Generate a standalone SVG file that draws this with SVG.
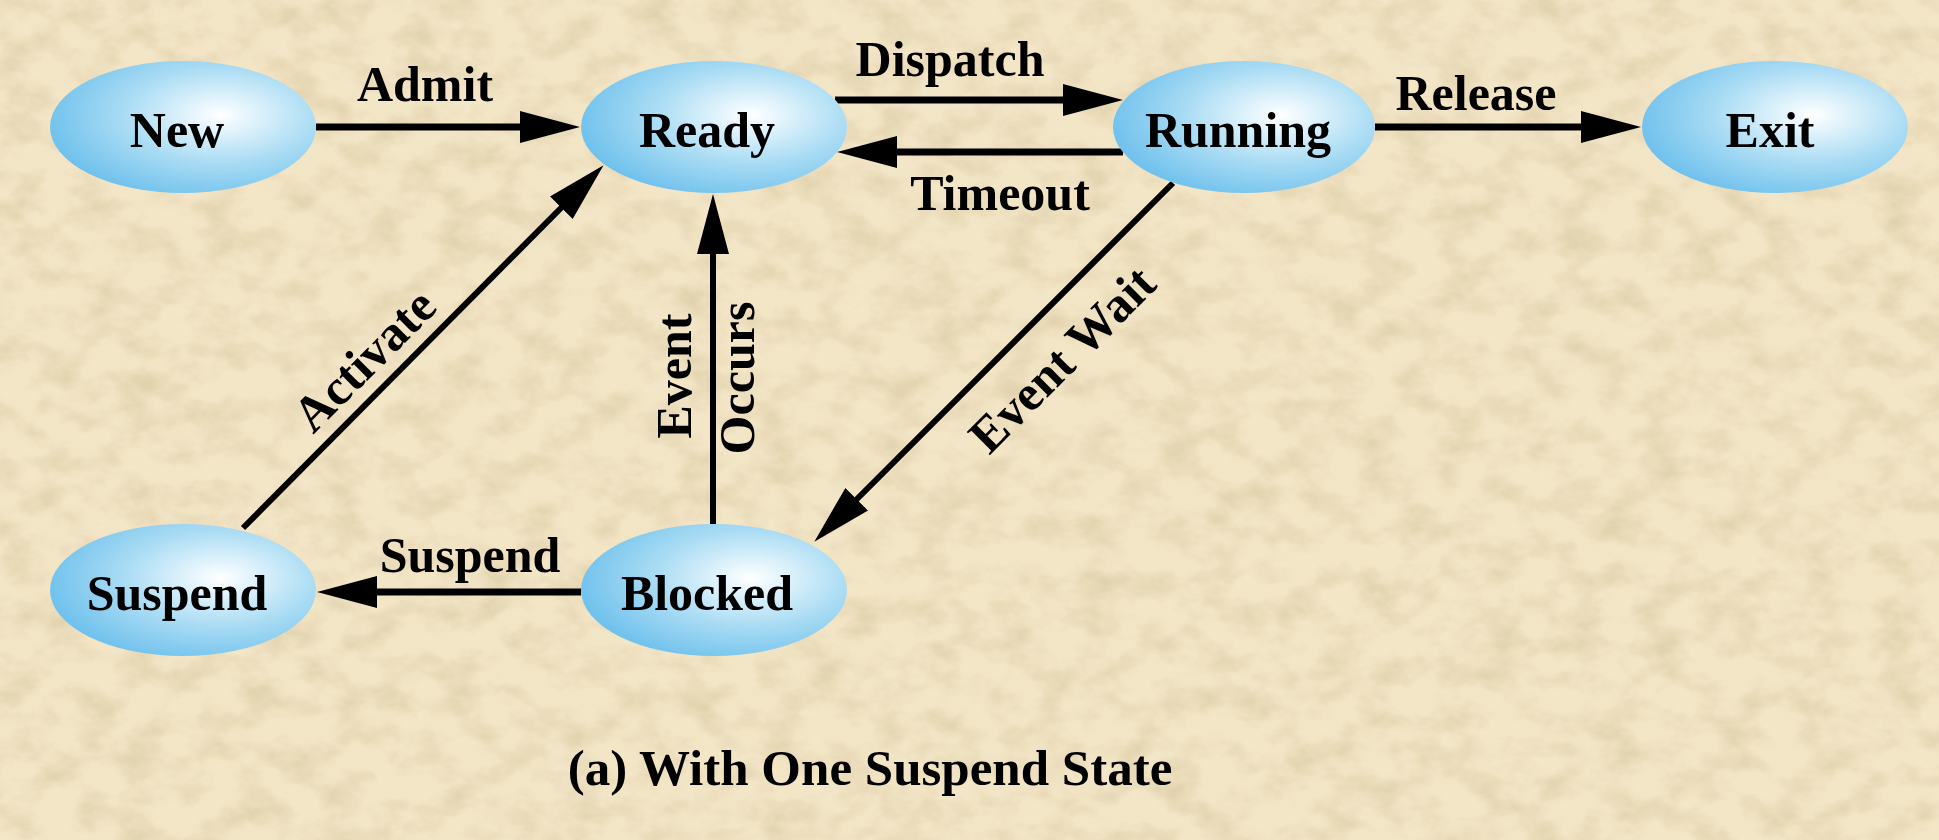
<svg xmlns="http://www.w3.org/2000/svg" width="1939" height="840" viewBox="0 0 1939 840">
<defs>
<style>
.lbl{font-family:"Liberation Serif","Times New Roman",serif;font-weight:bold;font-size:50px;fill:#000;text-anchor:middle}
.cap{font-size:51px}
.node{fill:url(#blue)}
.edge{stroke:#000;stroke-width:7;fill:none;marker-end:url(#ah)}
.thin{stroke-width:6}
</style>
<radialGradient id="blue" cx="0.64" cy="0.41" fx="0.64" fy="0.41" r="0.72">
<stop offset="0" stop-color="#FFFFFF"/>
<stop offset="0.12" stop-color="#EAF7FD"/>
<stop offset="0.5" stop-color="#AADCF4"/>
<stop offset="0.95" stop-color="#6BBFEC"/>
</radialGradient>
<marker id="ah" markerUnits="userSpaceOnUse" markerWidth="62" markerHeight="32" viewBox="0 0 62 32" refX="1" refY="16" orient="auto">
<path d="M0,0 L60,16 L0,32 z" fill="#000"/>
</marker>
<filter id="paper" x="0" y="0" width="100%" height="100%">
<feTurbulence type="fractalNoise" baseFrequency="0.025 0.035" numOctaves="4" seed="7" result="n"/>
<feColorMatrix in="n" type="matrix" values="0 0 0 0 0.70  0 0 0 0 0.58  0 0 0 0 0.36  1.4 0 0 0 -0.55"/>
</filter>
</defs>
<rect width="1939" height="840" fill="#F3E6C7"/>
<rect width="1939" height="840" filter="url(#paper)"/>

<g id="connectors">
<line class="edge" x1="316" y1="127" x2="521" y2="127"/>
<line class="edge" x1="835" y1="100" x2="1064" y2="100"/>
<line class="edge" x1="1123" y1="152" x2="896" y2="152"/>
<line class="edge" x1="1375" y1="127" x2="1582" y2="127"/>
<line class="edge" x1="581" y1="592" x2="376" y2="592"/>
<line class="edge thin" x1="713" y1="524" x2="713" y2="253"/>
<line class="edge thin" x1="243" y1="528" x2="562" y2="207"/>
<line class="edge thin" x1="1173" y1="183" x2="856" y2="500"/>
<text class="lbl" x="425" y="101">Admit</text>
<text class="lbl" x="950" y="76">Dispatch</text>
<text class="lbl" x="1000" y="210">Timeout</text>
<text class="lbl" x="1476" y="110">Release</text>
<text class="lbl" x="470" y="572">Suspend</text>
<text class="lbl" x="376" y="372" transform="rotate(-45 376 372)">Activate</text>
<text class="lbl" x="1074" y="371" transform="rotate(-45 1074 371)">Event Wait</text>
<text class="lbl" x="691" y="376" transform="rotate(-90 691 376)">Event</text>
<text class="lbl" x="754" y="378" transform="rotate(-90 754 378)">Occurs</text>
</g>

<g id="node-new"><ellipse class="node" cx="183" cy="127" rx="133" ry="66"/><text class="lbl" x="177" y="147">New</text></g>
<g id="node-ready"><ellipse class="node" cx="714" cy="127" rx="133" ry="66"/><text class="lbl" x="707" y="147">Ready</text></g>
<g id="node-running"><ellipse class="node" cx="1244" cy="127" rx="131" ry="66"/><text class="lbl" x="1238" y="147">Running</text></g>
<g id="node-exit"><ellipse class="node" cx="1775" cy="127" rx="133" ry="66"/><text class="lbl" x="1770" y="147">Exit</text></g>
<g id="node-suspend"><ellipse class="node" cx="183" cy="590" rx="133" ry="66"/><text class="lbl" x="177" y="610">Suspend</text></g>
<g id="node-blocked"><ellipse class="node" cx="714" cy="590" rx="133" ry="66"/><text class="lbl" x="707" y="610">Blocked</text></g>

<text class="lbl cap" x="870" y="785">(a) With One Suspend State</text>
</svg>
